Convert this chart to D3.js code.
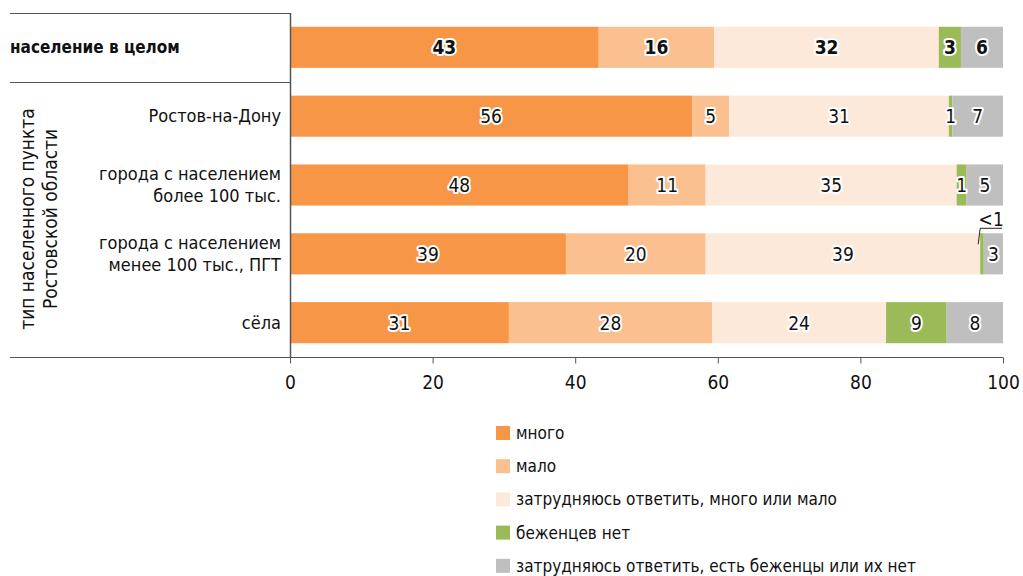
<!DOCTYPE html>
<html><head><meta charset="utf-8">
<script src="https://cdn.jsdelivr.net/npm/d3@7"></script>
<style>
body{margin:0;background:#fff;}
text{font-family:"Liberation Sans Narrow","DejaVu Sans Condensed","Roboto",sans-serif;}
</style></head>
<body><svg id="c" width="1023" height="576"></svg>
<script>
const categories = ["население в целом","Ростов-на-Дону","города с населением|более 100 тыс.","города с населением|менее 100 тыс., ПГТ","сёла"];
const seriesNames = ["много","мало","затрудняюсь ответить, много или мало","беженцев нет","затрудняюсь ответить, есть беженцы или их нет"];
const colors = ["#F79646","#FAC090","#FDE9D9","#9BBB59","#BFBFBF"];
const mnogo   = [43.3, 56.4, 47.5, 38.7, 30.7];
const malo    = [16.2, 5.2, 10.8, 19.6, 28.5];
const zatr1   = [31.5, 30.8, 35.2, 38.5, 24.4];
const net     = [3.1, 0.5, 1.4, 0.5, 8.5];
const zatr2   = [5.9, 7.1, 5.1, 2.7, 7.9];
const valueLabels = [
  ["43","16","32","3","6"],
  ["56","5","31","1","7"],
  ["48","11","35","1","5"],
  ["39","20","39","<1","3"],
  ["31","28","24","9","8"]
];
const xTicks = [0,20,40,60,80,100];
const axisTitle = ["тип населенного пункта","Ростовской области"];

const svg = d3.select("#c");
const x = d3.scaleLinear().domain([0,100]).range([290,1003]);
const y = d3.scaleBand().domain(d3.range(categories.length)).range([13,357]).paddingInner(0.403).paddingOuter(0.2);

const rows = categories.map((c,i)=>({i, s0:mnogo[i], s1:malo[i], s2:zatr1[i], s3:net[i], s4:zatr2[i]}));
const stack = d3.stack().keys(["s0","s1","s2","s3","s4"])(rows);

const g = svg.append("g");
stack.forEach((layer,k)=>{
  g.selectAll(null).data(layer).enter().append("rect")
    .attr("x",d=>x(d[0])).attr("width",d=>x(d[1])-x(d[0]))
    .attr("y",d=>y(d.data.i)).attr("height",y.bandwidth())
    .attr("fill",colors[k]);
});

// frame lines
const lc = "#555";
svg.append("line").attr("x1",10).attr("x2",290).attr("y1",13.5).attr("y2",13.5).attr("stroke",lc);
svg.append("line").attr("x1",10).attr("x2",290).attr("y1",82.5).attr("y2",82.5).attr("stroke",lc);
svg.append("line").attr("x1",10).attr("x2",290).attr("y1",357.5).attr("y2",357.5).attr("stroke",lc);
svg.append("line").attr("x1",290.5).attr("x2",290.5).attr("y1",13).attr("y2",357).attr("stroke",lc).attr("stroke-width",1.5);

// axis
const ax = svg.append("g").attr("transform","translate(0,357.5)")
  .call(d3.axisBottom(x).tickValues(xTicks).tickSize(6).tickPadding(12).tickFormat(d3.format("d")));
ax.select(".domain").attr("stroke",lc).attr("d","M290,0H1003");
ax.selectAll(".tick line").attr("stroke",lc);
ax.selectAll(".tick text").attr("font-size",19).attr("fill","#111")
  .style("font-family",'"Liberation Sans Narrow","DejaVu Sans Condensed",sans-serif');

// value labels
stack.forEach((layer,k)=>{
  layer.forEach(d=>{
    const i = d.data.i;
    const lab = valueLabels[i][k];
    let cx = (x(d[0])+x(d[1]))/2;
    let cy = y(i)+y.bandwidth()/2+7;
    if(lab==="<1"){
      const lx = x(d[0]);
      svg.append("path").attr("d",`M${lx-2},${y(i)+11}L${lx},${y(i)-5}H${x(100)-1}`)
        .attr("fill","none").attr("stroke","#222").attr("stroke-width",1);
      svg.append("text").attr("x",x(d[0])+11).attr("y",y(i)-7).attr("text-anchor","middle")
        .attr("font-size",19).attr("fill","#111").text(lab);
      return;
    }
    svg.append("text").attr("x",cx).attr("y",cy).attr("text-anchor","middle")
      .attr("font-size",19).attr("font-weight",i===0?"bold":"normal")
      .attr("fill","#111").attr("stroke","#fff").attr("stroke-width",4)
      .attr("stroke-linejoin","round").attr("paint-order","stroke").text(lab);
  });
});

// category labels
categories.forEach((c,i)=>{
  const lines = c.split("|");
  const cy = y(i)+y.bandwidth()/2;
  const t = svg.append("text").attr("font-size",18).attr("fill","#111");
  if(i===0){
    t.attr("x",10).attr("y",cy+6).attr("font-size",17).attr("font-weight","bold").attr("text-anchor","start").text(c);
  } else {
    t.attr("text-anchor","end");
    lines.forEach((l,j)=>{
      t.append("tspan").attr("x",281).attr("y",cy+6+(j-(lines.length-1)/2)*22).text(l);
    });
  }
});

// rotated title
const tt = svg.append("text").attr("transform","translate(38,219) rotate(-90)")
  .attr("text-anchor","middle").attr("font-size",19).attr("fill","#111");
axisTitle.forEach((l,j)=>tt.append("tspan").attr("x",0).attr("y",(j-0.5)*23+7).text(l));

// legend
const lg = svg.append("g");
seriesNames.forEach((n,k)=>{
  const ly = 433 + k*33.2;
  lg.append("rect").attr("x",496).attr("y",ly-7).attr("width",14).attr("height",14).attr("fill",colors[k]);
  lg.append("text").attr("x",516).attr("y",ly+6).attr("font-size",17).attr("fill","#111").text(n);
});
</script></body></html>
